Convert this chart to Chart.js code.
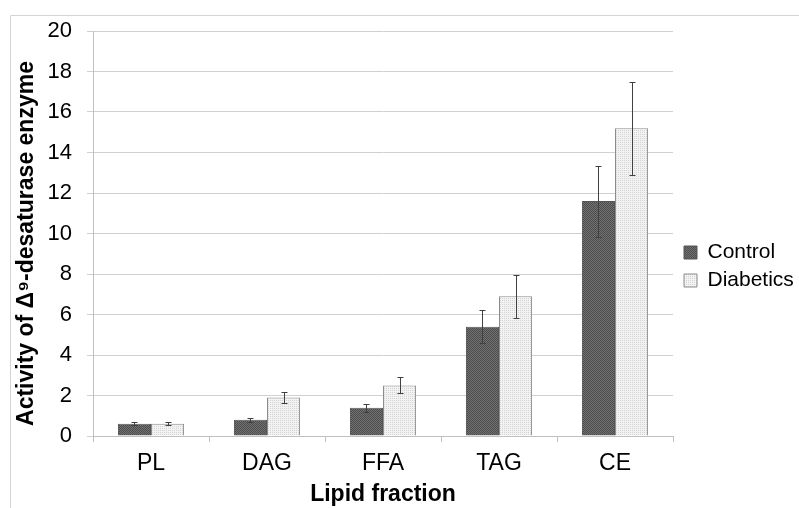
<!DOCTYPE html>
<html>
<head>
<meta charset="utf-8">
<script src="https://cdn.jsdelivr.net/npm/chart.js@4"></script>
<style>
  html, body { margin: 0; padding: 0; background: #fff; }
  #wrap { width: 799px; height: 508px; position: relative; }
</style>
</head>
<body>
<div id="wrap"><canvas id="c" width="799" height="508"></canvas></div>
<script>
const categories = ['PL', 'DAG', 'FFA', 'TAG', 'CE'];
const seriesNames = ['Control', 'Diabetics'];
const controlValues = [0.6, 0.8, 1.4, 5.4, 11.6];
const controlErrors = [0.07, 0.1, 0.2, 0.8, 1.75];
const diabeticValues = [0.6, 1.9, 2.5, 6.9, 15.2];
const diabeticErrors = [0.07, 0.28, 0.4, 1.05, 2.3];
const yTicks = [0, 2, 4, 6, 8, 10, 12, 14, 16, 18, 20];

const FONT = 'Liberation Sans, Arial, sans-serif';

function makePattern(bg, fg, cells) {
  const p = document.createElement('canvas');
  p.width = 4; p.height = 4;
  const g = p.getContext('2d');
  g.fillStyle = bg; g.fillRect(0, 0, 4, 4);
  g.fillStyle = fg;
  cells.forEach(([x, y]) => g.fillRect(x, y, 1, 1));
  return document.getElementById('c').getContext('2d').createPattern(p, 'repeat');
}
const darkPattern = makePattern('#727272', '#4c4c4c', [[0,0],[2,0],[1,1],[3,1],[0,2],[2,2],[1,3],[3,3]]);
const lightPattern = makePattern('#f3f3f3', '#d2d2d2', [[0,0],[2,0],[0,2],[2,2]]);

const errorBars = {
  id: 'errorBars',
  afterDatasetsDraw(chart) {
    const ctx = chart.ctx;
    const ys = chart.scales.y;
    const errs = [controlErrors, diabeticErrors];
    ctx.save();
    ctx.strokeStyle = '#404040';
    ctx.lineWidth = 1;
    chart.data.datasets.forEach((ds, di) => {
      const meta = chart.getDatasetMeta(di);
      meta.data.forEach((bar, i) => {
        const v = ds.data[i], e = errs[di][i];
        const x = Math.round(bar.x) + 0.5;
        const y1 = Math.round(ys.getPixelForValue(v + e)) + 0.5, y2 = Math.round(ys.getPixelForValue(v - e)) + 0.5;
        ctx.beginPath();
        ctx.moveTo(x, y1); ctx.lineTo(x, y2);
        ctx.moveTo(x - 3, y1); ctx.lineTo(x + 3, y1);
        ctx.moveTo(x - 3, y2); ctx.lineTo(x + 3, y2);
        ctx.stroke();
      });
    });
    ctx.restore();
  }
};

const frame = {
  id: 'frame',
  beforeDraw(chart) {
    const ctx = chart.ctx;
    ctx.save();
    ctx.strokeStyle = '#d4d4d4';
    ctx.lineWidth = 1;
    ctx.beginPath();
    ctx.moveTo(10.5, 508); ctx.lineTo(10.5, 15.5); ctx.lineTo(799, 15.5);
    ctx.stroke();
    ctx.restore();
  }
};

// Nudge the legend block to the reference position
const legendPlace = {
  id: 'legendPlace',
  afterLayout(chart) {
    const lg = chart.legend;
    if (lg) { lg.left += 4; lg.right += 4; lg.top -= 3; lg.bottom -= 3; }
  }
};

const chart = new Chart(document.getElementById('c'), {
  type: 'bar',
  data: {
    labels: categories,
    datasets: [
      { label: seriesNames[0], data: controlValues, backgroundColor: darkPattern, borderColor: '#555555', borderWidth: 1 },
      { label: seriesNames[1], data: diabeticValues, backgroundColor: lightPattern, borderColor: '#8c8c8c', borderWidth: 1 }
    ]
  },
  options: {
    responsive: false,
    animation: false,
    devicePixelRatio: 1,
    layout: { padding: { top: 31, left: 12, right: 0, bottom: 0 } },
    datasets: { bar: { categoryPercentage: 0.57, barPercentage: 1.0 } },
    plugins: {
      legend: {
        position: 'right',
        labels: {
          font: { family: FONT, size: 21 },
          color: '#000',
          boxWidth: 13, boxHeight: 13, padding: 7
        }
      },
      tooltip: { enabled: false }
    },
    scales: {
      x: {
        afterFit(scale) { scale.height = 72; },
        grid: { display: true, drawOnChartArea: false, drawTicks: true, tickLength: 6, color: '#c0c0c0' },
        border: { display: true, color: '#c0c0c0' },
        ticks: { font: { family: FONT, size: 23 }, color: '#000', padding: 8 },
        title: { display: true, text: 'Lipid fraction', font: { family: FONT, size: 23, weight: 'bold' }, color: '#000', padding: { top: 0, bottom: 0 } }
      },
      y: {
        min: 0, max: 20,
        afterBuildTicks(scale) { scale.ticks = yTicks.map(v => ({ value: v })); },
        afterFit(scale) { scale.width = 81; },
        grid: { color: '#d0d0d0', tickLength: 6, drawTicks: true },
        border: { display: true, color: '#c0c0c0' },
        ticks: { font: { family: FONT, size: 22 }, color: '#000', padding: 15 },
        title: { display: true, text: 'Activity of Δ⁹-desaturase enzyme', font: { family: FONT, size: 23, weight: 'bold' }, color: '#000', padding: { top: 1, bottom: 4 } }
      }
    }
  },
  plugins: [frame, errorBars, legendPlace]
});
const lgObj = chart.legend;
const origFit = lgObj.fit;
lgObj.fit = function () { origFit.call(this); this.width = 126; };
const yScale = chart.scales.y;
const origDrawTitle = yScale.drawTitle;
yScale.drawTitle = function () {
  const ctx = this.ctx;
  ctx.save();
  ctx.translate(0, 10);
  origDrawTitle.apply(this, arguments);
  ctx.restore();
};
chart.update();
</script>
</body>
</html>
